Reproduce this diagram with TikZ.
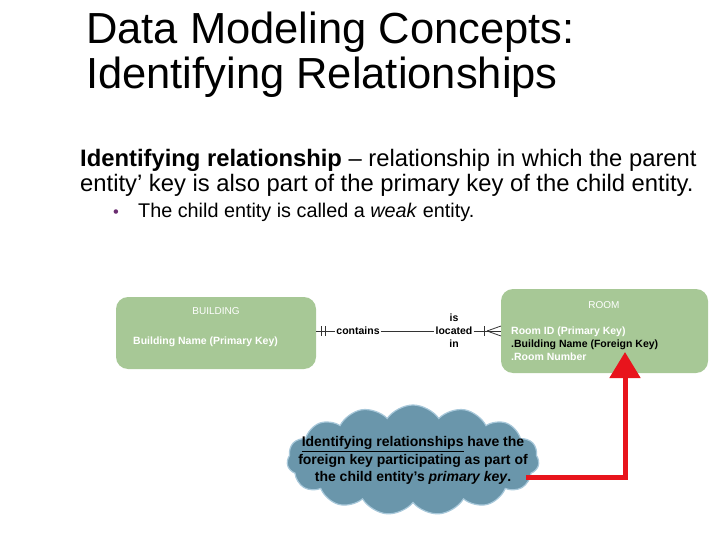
\documentclass[tikz,border=0pt]{standalone}
\usepackage{fontspec}
\setmainfont{Liberation Sans}
\usetikzlibrary{shapes.symbols,arrows.meta}
\definecolor{boxgreen}{HTML}{A7C896}
\definecolor{cloudfill}{HTML}{6A96AB}
\definecolor{cloudedge}{HTML}{A8C8DA}
\definecolor{arrowred}{HTML}{E8141C}
\definecolor{bulletpurple}{HTML}{6A2C70}
\tikzset{
  entity/.style={draw=none, fill=boxgreen, rounded corners=12pt},
  etitle/.style={text=white, font=\fontsize{10}{12}\selectfont},
  efield/.style={text=white, font=\fontsize{10.5}{12}\selectfont\bfseries, anchor=base west, inner sep=0pt},
  rel/.style={font=\fontsize{10.5}{13}\selectfont\bfseries, inner sep=1pt},
  relline/.style={line width=0.8pt, black!80},
}
\begin{document}
\begin{tikzpicture}[x=1pt,y=-1pt]
\useasboundingbox (0,0) rectangle (720,540);
% title
\node[anchor=base west, inner sep=0pt, font=\fontsize{43.5}{46}\selectfont] (t1) at (86,44) {Data Modeling Concepts:};
\node[anchor=base west, inner sep=0pt, font=\fontsize{43.5}{46}\selectfont] (t2) at (86,89) {Identifying Relationships};
% body
\node[anchor=base west, inner sep=0pt, font=\fontsize{23.8}{25}\selectfont] (b1) at (80,167) {\textbf{Identifying relationship} – relationship in which the parent};
\node[anchor=base west, inner sep=0pt, font=\fontsize{23.8}{25}\selectfont] (b2) at (80,192) {entity’ key is also part of the primary key of the child entity.};
\node[anchor=base west, inner sep=0pt, font=\fontsize{16.5}{20}\selectfont, text=bulletpurple] (bul) at (113,218) {•};
\node[anchor=base west, inner sep=0pt, font=\fontsize{19.8}{22}\selectfont] (b3) at (138,218) {The child entity is called a \textit{weak} entity.};
% entities
\node[entity, minimum width=200pt, minimum height=72pt] (bld) at (216,333) {};
\node[etitle] (bldt) at (216,311) {BUILDING};
\node[efield] (bldf) at (133,344) {Building Name (Primary Key)};
\node[entity, minimum width=207pt, minimum height=84pt] (room) at (604.5,331) {};
\node[etitle] (roomt) at (604,305) {ROOM};
\node[efield] (rf1) at (511,334) {Room ID (Primary Key)};
\node[efield, text=black] (rf2) at (511,347) {.Building Name (Foreign Key)};
\node[efield] (rf3) at (511,360) {.Room Number};
% relationship
\node[rel] (cont) at (358,331) {contains};
\node[rel, align=center] (isl) at (454,331) {is\\located\\in};
\coordinate (bE) at (316,331);
\coordinate (rW) at (501,331);
\draw[relline] (bE) -- (cont.west);
\draw[relline] (cont.east) -- (isl.west);
\draw[relline] (isl.east) -- (rW);
\draw[relline] ([xshift=5pt]bE) ++(0,-5) -- ++(0,10);
\draw[relline] ([xshift=9pt]bE) ++(0,-5) -- ++(0,10);
\draw[relline] ([xshift=-17pt]rW) ++(0,-5) -- ++(0,10);
\draw[relline] ([xshift=-14pt]rW) -- ++(14,-5);
\draw[relline] ([xshift=-14pt]rW) -- ++(14,5);
% cloud
\node[cloud, cloud puffs=15, cloud puff arc=110, aspect=2.3, fill=cloudfill, draw=cloudedge, line width=1.2pt, minimum width=252pt, minimum height=110pt, inner sep=0pt] (cl) at (413,460) {};
\node[align=center, font=\fontsize{14}{17.5}\selectfont\bfseries, inner sep=0pt] (clt) at (413,460.5) {\underline{Identifying relationships} have the\\foreign key participating as part of\\the child entity's \textit{primary key}.};
% red arrow
\coordinate (a0) at (526,477);
\coordinate (tip) at (625,352);
\draw[arrowred, line width=5pt, -{Triangle[length=26pt,width=30pt]}] (a0) -| (tip);
\end{tikzpicture}
\end{document}
